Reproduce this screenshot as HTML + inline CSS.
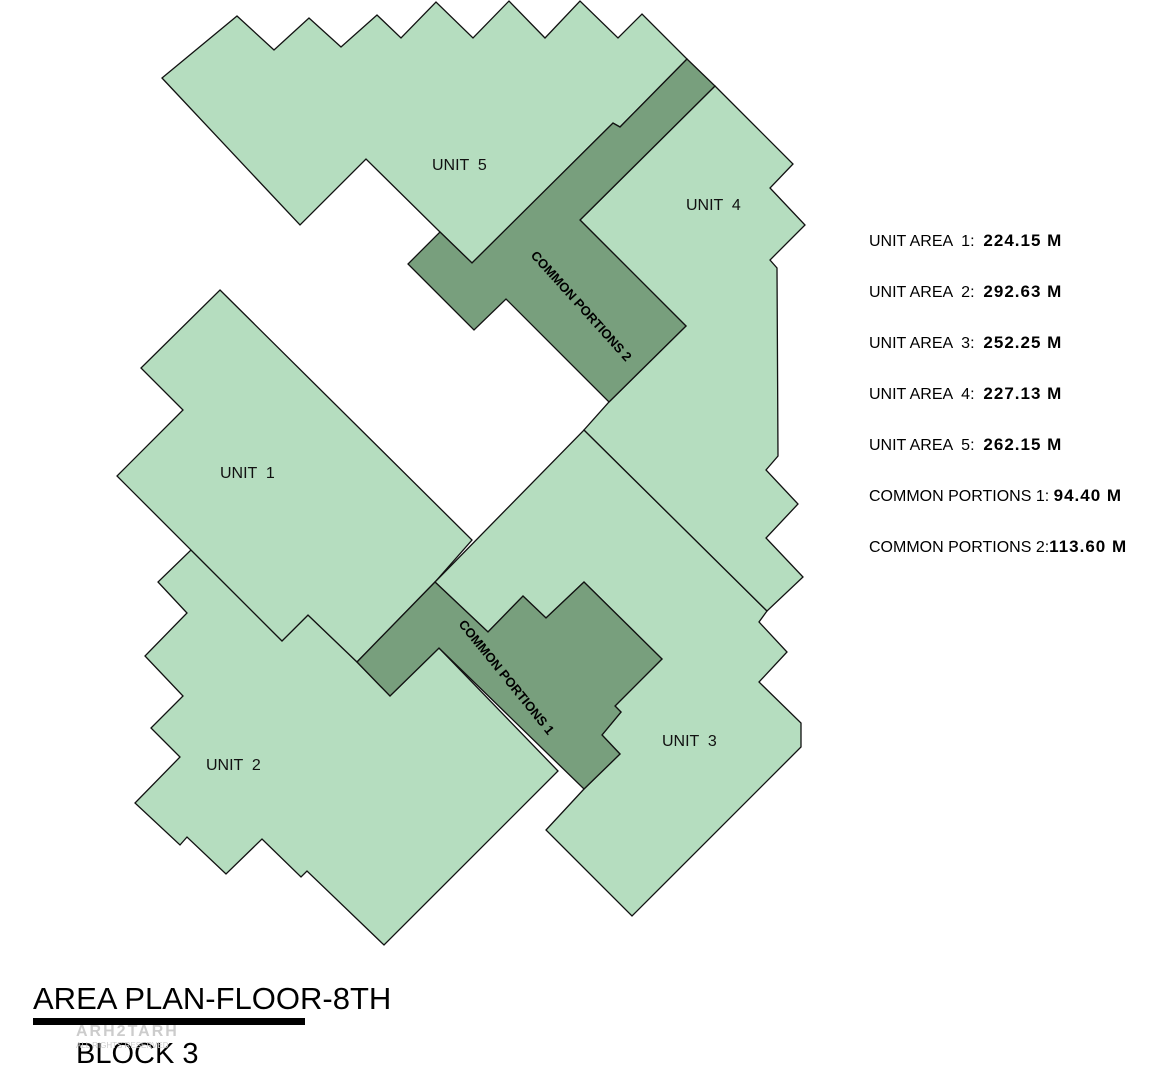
<!DOCTYPE html>
<html><head><meta charset="utf-8"><style>
html,body{margin:0;padding:0;background:#fff;}
svg{display:block;}
text{font-family:"Liberation Sans",sans-serif;white-space:pre;}
</style></head><body>
<svg width="1165" height="1080" viewBox="0 0 1165 1080" xmlns="http://www.w3.org/2000/svg" xml:space="preserve">
<g stroke="#111" stroke-width="1.3" stroke-linejoin="miter">
<polygon fill="#b5ddbf" points="191,550 282,641 308,615 357,662 390,696 439,648 558,771 384,945 307,871 301,877 262,839 226,874 187,837 180,845 135,803 180,757 151,728 183,696 145,656 187,613 158,582"/>
<polygon fill="#b5ddbf" points="220,290 472,540 435,582 357,662 308,615 282,641 117,476 183,410 141,368"/>
<polygon fill="#b5ddbf" points="584,430 767,611 759,622 787,652 759,682 801,723 801,747 632,916 546,830 584,789 620,754 602,735 621,712 615,706 662,659 584,582 546,618 523,596 488,632 435,582"/>
<polygon fill="#b5ddbf" points="715,86 793,164 770,188 805,225 770,260 777,268 778,456 766,470 798,504 766,538 803,577 767,611 584,430 609,402 686,326 580,220"/>
<polygon fill="#b5ddbf" points="162,78 237,16 274,50 309,18 341,47 377,15 401,38 436,2 473,38 509,1 545,38 580,1 618,38 642,14 687,59 620,127 613,123 472,263 440,232 366,159 300,225"/>
<polygon fill="#789f7d" points="435,582 357,662 390,696 439,648 584,789 620,754 602,735 621,712 615,706 662,659 584,582 546,618 523,596 488,632"/>
<polygon fill="#789f7d" points="687,59 715,86 580,220 686,326 609,402 506,299 474,330 408,264 440,232 472,263 613,123 620,127"/>
</g>
<g font-size="16" fill="#111">
<text x="432" y="170">UNIT  5</text>
<text x="686" y="210">UNIT  4</text>
<text x="220" y="478">UNIT  1</text>
<text x="206" y="770">UNIT  2</text>
<text x="662" y="746">UNIT  3</text>
</g>
<text x="578" y="309" font-size="13" font-weight="bold" text-anchor="middle" transform="rotate(48 578 309)">COMMON PORTIONS 2</text>
<text x="503" y="680" font-size="13" font-weight="bold" text-anchor="middle" transform="rotate(51 503 680)">COMMON PORTIONS 1</text>
<g font-size="16" fill="#000">
<text x="869" y="246">UNIT AREA  1:  <tspan font-weight="bold" font-size="17" letter-spacing="1">224.15 M</tspan></text>
<text x="869" y="297">UNIT AREA  2:  <tspan font-weight="bold" font-size="17" letter-spacing="1">292.63 M</tspan></text>
<text x="869" y="348">UNIT AREA  3:  <tspan font-weight="bold" font-size="17" letter-spacing="1">252.25 M</tspan></text>
<text x="869" y="399">UNIT AREA  4:  <tspan font-weight="bold" font-size="17" letter-spacing="1">227.13 M</tspan></text>
<text x="869" y="450">UNIT AREA  5:  <tspan font-weight="bold" font-size="17" letter-spacing="1">262.15 M</tspan></text>
<text x="869" y="501">COMMON PORTIONS 1: <tspan font-weight="bold" font-size="17" letter-spacing="1">94.40 M</tspan></text>
<text x="869" y="552">COMMON PORTIONS 2:<tspan font-weight="bold" font-size="17" letter-spacing="1">113.60 M</tspan></text>
</g>
<text x="33" y="1009" font-size="31" fill="#000">AREA PLAN-FLOOR-8TH</text>
<rect x="33" y="1018" width="272" height="7" fill="#000"/>
<text x="76" y="1063" font-size="29" fill="#000">BLOCK 3</text>
<text x="76" y="1036" font-size="16" fill="#ccc" font-weight="bold" letter-spacing="2">ARH2TARH</text>
<text x="76" y="1048" font-size="8" fill="#ccc">ALL RIGHTS RESERVED</text>
</svg>
</body></html>
